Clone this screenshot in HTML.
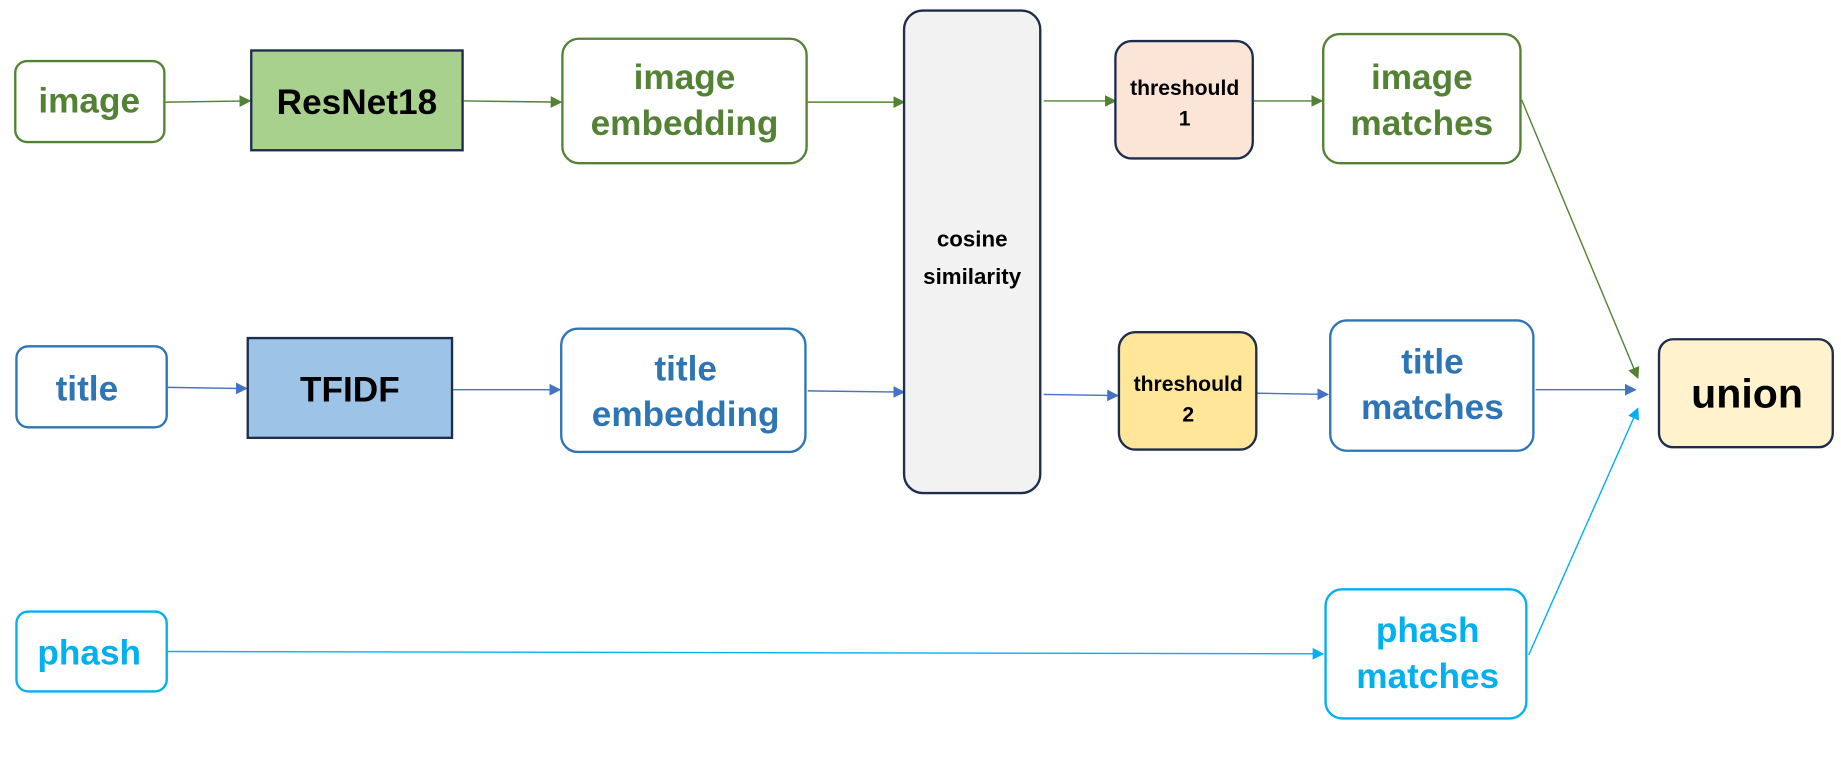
<!DOCTYPE html>
<html><head><style>html,body{margin:0;padding:0;background:#fff;width:1841px;height:763px;overflow:hidden}</style></head>
<body>
<svg width="1841" height="763" viewBox="0 0 1568 650" preserveAspectRatio="none" xmlns="http://www.w3.org/2000/svg" font-family="Liberation Sans, DejaVu Sans, sans-serif" font-weight="bold" text-anchor="middle">
<defs>
<marker id="ag" markerWidth="10" markerHeight="10" refX="9" refY="5" orient="auto" markerUnits="userSpaceOnUse"><path d="M0,0 L10,5 L0,10z" fill="#548235"/></marker>
<marker id="ab" markerWidth="10" markerHeight="10" refX="9" refY="5" orient="auto" markerUnits="userSpaceOnUse"><path d="M0,0 L10,5 L0,10z" fill="#4472c4"/></marker>
<marker id="ac" markerWidth="10" markerHeight="10" refX="9" refY="5" orient="auto" markerUnits="userSpaceOnUse"><path d="M0,0 L10,5 L0,10z" fill="#00b0f0"/></marker>
</defs>
<g fill="none" stroke-width="1.2">
<g stroke="#548235" marker-end="url(#ag)">
<line x1="141" y1="87" x2="213" y2="86"/><line x1="395" y1="86" x2="478" y2="87"/><line x1="688" y1="87" x2="770" y2="87"/><line x1="889" y1="86" x2="950" y2="86"/><line x1="1068" y1="86" x2="1126" y2="86"/><line x1="1296" y1="85" x2="1395" y2="322"/>
</g>
<g stroke="#4472c4" marker-end="url(#ab)">
<line x1="143" y1="330" x2="210" y2="331"/><line x1="386" y1="332" x2="477" y2="332"/><line x1="688" y1="333" x2="770" y2="334"/><line x1="889" y1="336" x2="952" y2="337"/><line x1="1071" y1="335" x2="1131" y2="336"/><line x1="1308" y1="332" x2="1393" y2="332"/>
</g>
<g stroke="#00b0f0" marker-end="url(#ac)">
<line x1="143" y1="555" x2="1127" y2="557"/><line x1="1302" y1="558" x2="1395" y2="348"/>
</g>
</g>
<g stroke-width="2">
<rect x="13" y="52" width="127" height="69" rx="10" fill="#fff" stroke="#548235"/>
<rect x="214" y="43" width="180" height="85" fill="#a9d18e" stroke="#1f2d4d"/>
<rect x="479" y="33" width="208" height="106" rx="14" fill="#fff" stroke="#548235"/>
<rect x="770" y="9" width="116" height="411" rx="16" fill="#f2f2f2" stroke="#1f2d4d"/>
<rect x="950" y="35" width="117" height="100" rx="14" fill="#fbe5d6" stroke="#1f2d4d"/>
<rect x="1127" y="29" width="168" height="110" rx="14" fill="#fff" stroke="#548235"/>
<rect x="14" y="295" width="128" height="69" rx="10" fill="#fff" stroke="#2e75b6"/>
<rect x="211" y="288" width="174" height="85" fill="#9dc3e6" stroke="#1f2d4d"/>
<rect x="478" y="280" width="208" height="105" rx="14" fill="#fff" stroke="#2e75b6"/>
<rect x="953" y="283" width="117" height="100" rx="14" fill="#ffe699" stroke="#1f2d4d"/>
<rect x="1133" y="273" width="173" height="111" rx="14" fill="#fff" stroke="#2e75b6"/>
<rect x="1413" y="289" width="148" height="92" rx="12" fill="#fff2cc" stroke="#1f2d4d"/>
<rect x="14" y="521" width="128" height="68" rx="10" fill="#fff" stroke="#00b0f0"/>
<rect x="1129" y="502" width="171" height="110" rx="14" fill="#fff" stroke="#00b0f0"/>
</g>
<g font-size="30">
<text x="76" y="96" fill="#548235">image</text>
<text x="304" y="97" fill="#000">ResNet18</text>
<text x="583" y="76" fill="#548235">image</text><text x="583" y="115" fill="#548235">embedding</text>
<text x="1211" y="76" fill="#548235">image</text><text x="1211" y="115" fill="#548235">matches</text>
<text x="74" y="341" fill="#2e75b6">title</text>
<text x="298" y="342" fill="#000">TFIDF</text>
<text x="584" y="324" fill="#2e75b6">title</text><text x="584" y="363" fill="#2e75b6">embedding</text>
<text x="1220" y="318" fill="#2e75b6">title</text><text x="1220" y="357" fill="#2e75b6">matches</text>
<text x="76" y="566" fill="#00b0f0">phash</text>
<text x="1216" y="547" fill="#00b0f0">phash</text><text x="1216" y="586" fill="#00b0f0">matches</text>
<text x="1488" y="347" font-size="35" fill="#000">union</text>
</g>
<g font-size="19" fill="#000">
<text x="828" y="210">cosine</text><text x="828" y="242">similarity</text>
</g>
<g font-size="18" fill="#000">
<text x="1009" y="81">threshould</text><text x="1009" y="107">1</text>
<text x="1012" y="333">threshould</text><text x="1012" y="359">2</text>
</g>
</svg>
</body></html>
